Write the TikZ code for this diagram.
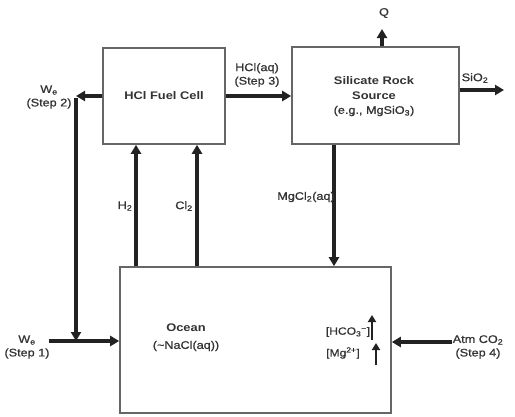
\documentclass[tikz,border=0pt]{standalone}
\usepackage{fontspec}
\setmainfont{Liberation Sans}[FakeStretch=1.17]
\newfontfamily\lblfont{Liberation Sans}[FakeStretch=1.15,FakeBold=0.8]
\usetikzlibrary{arrows.meta}
\definecolor{ink}{HTML}{222222}
\definecolor{txt}{HTML}{333333}
\definecolor{edge}{HTML}{666666}
\tikzset{
  blk/.style={draw=edge, line width=1.6pt, fill=white, inner sep=0pt},
  arr/.style={draw=ink, line width=3.3pt, -{Triangle[length=9pt,width=10pt]}},
  sarr/.style={draw=ink, line width=2.4pt, -{Triangle[length=7pt,width=8pt]}},
  lbl/.style={text=txt, font=\lblfont\fontsize{11}{13.5}\selectfont, align=center, inner sep=0pt},
  ttl/.style={text=txt, font=\fontsize{11}{14.5}\selectfont\bfseries, align=center, inner sep=0pt},
}
\begin{document}
\begin{tikzpicture}[x=1pt,y=-1pt]
\useasboundingbox (0,0) rectangle (515,416);
% boxes
\node[blk, minimum width=122pt, minimum height=96pt] (fuel) at (164,96) {};
\node[ttl] (fueltxt) at (164,96) {HCl Fuel Cell};
\node[blk, minimum width=167pt, minimum height=97pt] (sil) at (375.5,95.5) {};
\node[ttl] (siltxt) at (374,88) {Silicate Rock\\Source};
\node[lbl] (silsub) at (374,111) {(e.g., MgSiO\textsubscript{3})};
\node[blk, minimum width=271pt, minimum height=146pt] (ocean) at (255.5,340) {};
\node[ttl] (oceantxt) at (186,328) {Ocean};
\node[lbl] (oceansub) at (186,346) {(\char"007ENaCl(aq))};
% inner labels
\node[lbl, font=\lblfont\fontsize{10.5}{12}\selectfont] (hco) at (348,332) {[HCO\textsubscript{3}\textsuperscript{−}]};
\node[lbl, font=\lblfont\fontsize{10.5}{12}\selectfont] (mg) at (343,353) {[Mg\textsuperscript{2+}]};
\coordinate (hcoa) at (372,340);
\coordinate (hcob) at (372,315);
\coordinate (mga) at (376,365);
\coordinate (mgb) at (376,343);
\draw[sarr] (hcoa) -- (hcob);
\draw[sarr] (mga) -- (mgb);
% W_e step 2 loop
\coordinate (wtop) at (76,96);
\coordinate (wjoin) at (76,341);
\coordinate (w1) at (49,341);
\draw[arr] (fuel.west) -- (wtop);
\draw[arr] ([yshift=-1.6pt]wtop) -- (wjoin);
\draw[arr] (w1) -- (w1 -| ocean.west);
\node[lbl] (we2) at (49,97) {W\textsubscript{e}\\(Step 2)};
\node[lbl] (we1) at (27,347) {W\textsubscript{e}\\(Step 1)};
% H2 and Cl2
\coordinate (h2x) at (136,0);
\coordinate (cl2x) at (197,0);
\draw[arr] (h2x |- ocean.north) -- (h2x |- fuel.south);
\draw[arr] (cl2x |- ocean.north) -- (cl2x |- fuel.south);
\node[lbl] (h2l) at (125,206) {H\textsubscript{2}};
\node[lbl] (cl2l) at (184,206) {Cl\textsubscript{2}};
% HCl(aq)
\draw[arr] (fuel.east) -- (fuel.east -| sil.west);
\node[lbl] (hcll) at (257,75) {HCl(aq)\\(Step 3)};
% Q
\coordinate (qx) at (382,29);
\draw[arr] (qx |- sil.north) -- (qx);
\node[lbl] (ql) at (384,13) {Q};
% SiO2
\coordinate (sio) at (504,90);
\draw[arr] (sio -| sil.east) -- (sio);
\node[lbl] (siol) at (475,78) {SiO\textsubscript{2}};
% MgCl2
\coordinate (mgx) at (334,0);
\draw[arr] (mgx |- sil.south) -- (mgx |- ocean.north);
\node[lbl] (mgl) at (306,197) {MgCl\textsubscript{2}(aq)};
% Atm CO2
\coordinate (co2) at (452,342);
\draw[arr] (co2) -- (co2 -| ocean.east);
\node[lbl] (co2l) at (478,347) {Atm CO\textsubscript{2}\\(Step 4)};
\end{tikzpicture}
\end{document}
